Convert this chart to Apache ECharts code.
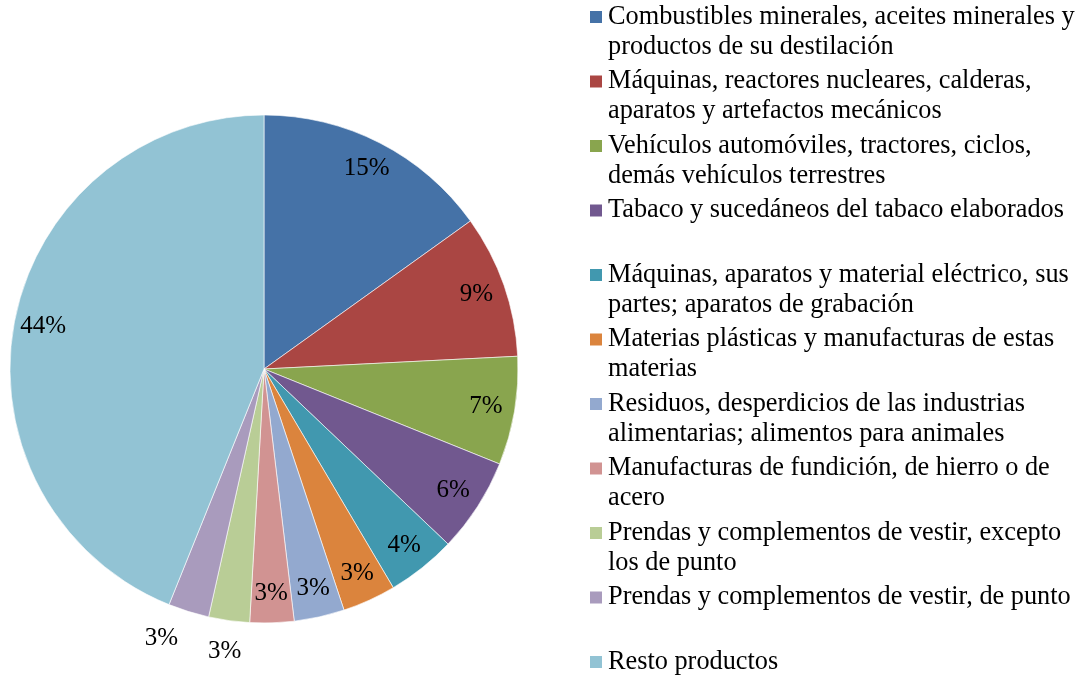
<!DOCTYPE html>
<html>
<head>
<meta charset="utf-8">
<script src="https://cdn.jsdelivr.net/npm/echarts@6/dist/echarts.min.js"></script>
<style>
  html, body { margin: 0; padding: 0; background: #fff; }
  #chart-one { width: 1083px; height: 676px; }
</style>
</head>
<body>
<div id="chart-one"></div>
<script>
// categories as shown in the legend (line breaks as in the picture)
const categories = [
    'Combustibles minerales, aceites minerales y\nproductos de su destilación',
    'Máquinas, reactores nucleares, calderas,\naparatos y artefactos mecánicos',
    'Vehículos automóviles, tractores, ciclos,\ndemás vehículos terrestres',
    'Tabaco y sucedáneos del tabaco elaborados',
    'Máquinas, aparatos y material eléctrico, sus\npartes; aparatos de grabación',
    'Materias plásticas y manufacturas de estas\nmaterias',
    'Residuos, desperdicios de las industrias\nalimentarias; alimentos para animales',
    'Manufacturas de fundición, de hierro o de\nacero',
    'Prendas y complementos de vestir, excepto\nlos de punto',
    'Prendas y complementos de vestir, de punto',
    'Resto productos'
];
// share of each category, percent
const shares = [15.1, 9.1, 6.9, 6.0, 4.4, 3.4, 3.2, 2.8, 2.6, 2.6, 43.9];
const colors = ['#4572A7', '#AA4643', '#89A54E', '#71588F', '#4198AF', '#DB843D',
                '#93A9CF', '#D19392', '#B9CD96', '#A99BBD', '#92C3D4'];
// slices whose label sits outside the pie
const outsideIdx = [8, 9];

eshipPieChart();

function eshipPieChart() {
    let myChart = echarts.init(document.getElementById('chart-one'));

    let font = '"Liberation Serif", "Times New Roman", serif';
    let center = [264, 369];
    let pct = function (p) { return Math.round(p.percent) + '%'; };

    let pieData = categories.map(function (c, i) {
        return { name: c, value: shares[i] };
    });

    let labelStyle = {
        position: 'inside',
        formatter: pct,
        fontFamily: font,
        fontSize: 25,
        color: '#000'
    };

    let option = {
        animation: false,
        color: colors,
        legend: {
            orient: 'vertical',
            left: 583,
            top: -33,
            height: 800,
            itemWidth: 14,
            itemHeight: 14,
            itemGap: -25.5,
            icon: 'rect',
            selectedMode: false,
            data: categories,
            // blank first line so the icon lines up with the first text line
            formatter: function (name) {
                return '\n' + name + (name.indexOf('\n') < 0 ? '\n' : '');
            },
            textStyle: {
                fontFamily: font,
                fontSize: 26.3,
                lineHeight: 30,
                color: '#000'
            }
        },
        series: [
            {
                // the pie itself
                name: 'pie',
                type: 'pie',
                center: center,
                radius: 254,
                startAngle: 90,
                clockwise: true,
                label: { show: false },
                labelLine: { show: false },
                itemStyle: { borderColor: '#fff', borderWidth: 0.6 },
                emphasis: { disabled: true },
                data: pieData
            },
            {
                // labels placed inside, near the rim
                type: 'pie',
                center: center,
                radius: [190, 254],
                startAngle: 90,
                silent: true,
                itemStyle: { color: 'transparent' },
                labelLine: { show: false },
                label: labelStyle,
                data: pieData.map(function (d, i) {
                    return {
                        name: d.name, value: d.value,
                        label: { show: outsideIdx.indexOf(i) < 0 }
                    };
                })
            },
            {
                // labels for the small slices, outside the rim
                type: 'pie',
                center: center,
                radius: [258, 306],
                startAngle: 90,
                silent: true,
                itemStyle: { color: 'transparent' },
                labelLine: { show: false },
                label: labelStyle,
                data: pieData.map(function (d, i) {
                    return {
                        name: d.name, value: d.value,
                        label: {
                            show: outsideIdx.indexOf(i) >= 0,
                            offset: i === 9 ? [-18, -3] : [0, 0]
                        }
                    };
                })
            }
        ]
    };

    myChart.setOption(option);
}
</script>
</body>
</html>
